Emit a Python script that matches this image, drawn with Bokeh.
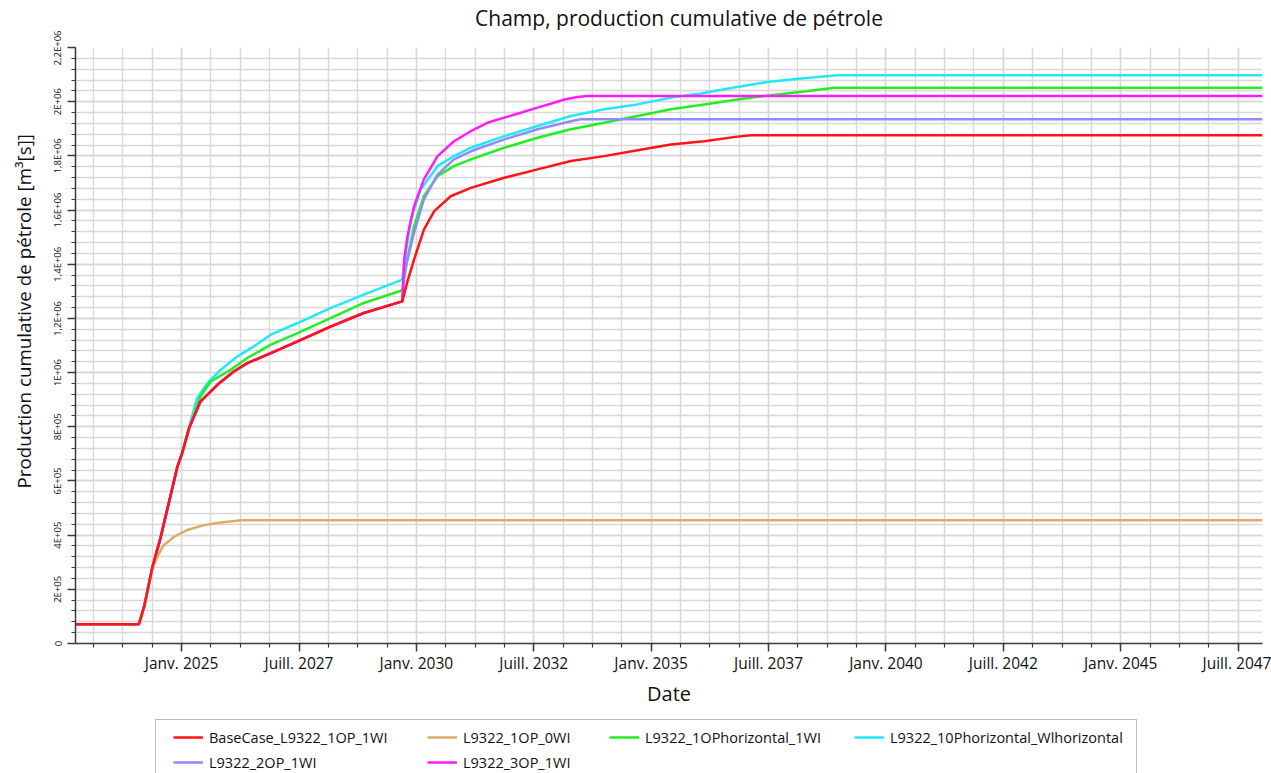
import numpy as np
from bokeh.plotting import figure
from bokeh.layouts import column
from bokeh.models import Range1d, FixedTicker, Legend, LegendItem, Title, Label
from bokeh.embed import file_html
from bokeh.resources import INLINE

# ---------------- data (x in decimal years) ----------------
X_START = 2022.74
X_END = 2048.02

base_x = [2022.74, 2024.09, 2024.20, 2024.38, 2024.55, 2024.77, 2024.91, 2025.01, 2025.16,
          2025.40, 2025.76, 2026.11, 2026.40, 2026.90, 2027.47, 2028.17, 2028.88, 2029.70,
          2029.81, 2029.95, 2030.16, 2030.38, 2030.73, 2031.16, 2031.87, 2032.58, 2033.29,
          2034.00, 2034.71, 2035.42, 2036.13, 2036.84, 2037.12, 2048.02]
base_y = [71000, 71000, 135000, 283000, 390000, 550000, 653000, 702000, 795000,
          893000, 955000, 1004000, 1035000, 1072000, 1115000, 1170000, 1220000, 1263000,
          1337000, 1417000, 1528000, 1596000, 1651000, 1682000, 1719000, 1750000, 1781000,
          1799000, 1821000, 1842000, 1854000, 1871000, 1876000, 1876000]

op0_x = [2022.74, 2024.09, 2024.20, 2024.38, 2024.48, 2024.62, 2024.84, 2025.12, 2025.48,
         2025.83, 2026.26, 2048.02]
op0_y = [71000, 71000, 135000, 277000, 320000, 363000, 394000, 419000, 437000,
         447000, 455000, 455000]

hor_x = [2022.74, 2024.09, 2024.20, 2024.38, 2024.55, 2024.77, 2024.91, 2025.01, 2025.16,
         2025.40, 2025.62, 2026.04, 2026.40, 2026.90, 2027.47, 2028.17, 2028.88, 2029.70,
         2029.81, 2029.95, 2030.16, 2030.45, 2030.80, 2031.16, 2031.87, 2032.58, 2033.29,
         2034.00, 2034.71, 2035.42, 2036.13, 2036.84, 2037.55, 2038.26, 2038.90, 2048.02]
hor_y = [71000, 71000, 135000, 283000, 390000, 550000, 653000, 702000, 795000,
         912000, 967000, 1010000, 1054000, 1103000, 1146000, 1201000, 1257000, 1304000,
         1420000, 1540000, 1651000, 1725000, 1762000, 1787000, 1830000, 1867000, 1898000,
         1922000, 1947000, 1972000, 1990000, 2008000, 2024000, 2038000, 2051000, 2051000]

hwi_x = [2022.74, 2024.09, 2024.20, 2024.38, 2024.55, 2024.77, 2024.91, 2025.01, 2025.16,
         2025.33, 2025.55, 2025.83, 2026.19, 2026.54, 2026.90, 2027.47, 2028.17, 2028.88,
         2029.70, 2029.78, 2029.88, 2030.09, 2030.45, 2030.80, 2031.16, 2031.87, 2032.58,
         2033.29, 2034.00, 2034.71, 2035.42, 2036.06, 2036.77, 2037.48, 2038.19, 2038.97,
         2048.02]
hwi_y = [71000, 71000, 135000, 283000, 390000, 550000, 653000, 705000, 800000,
         906000, 961000, 1010000, 1060000, 1097000, 1140000, 1183000, 1238000, 1288000,
         1343000, 1450000, 1565000, 1676000, 1762000, 1799000, 1830000, 1873000, 1910000,
         1947000, 1972000, 1990000, 2015000, 2030000, 2052000, 2073000, 2086000, 2098000,
         2098000]

op2_x = [2022.74, 2024.09, 2024.20, 2024.38, 2024.55, 2024.77, 2024.91, 2025.01, 2025.16,
         2025.40, 2025.76, 2026.11, 2026.40, 2026.90, 2027.47, 2028.17, 2028.88, 2029.70,
         2029.74, 2029.95, 2030.16, 2030.45, 2030.80, 2031.16, 2031.87, 2032.58, 2033.29,
         2033.50, 2048.02]
op2_y = [71000, 71000, 135000, 283000, 390000, 550000, 653000, 702000, 795000,
         893000, 955000, 1004000, 1035000, 1072000, 1115000, 1170000, 1220000, 1263000,
         1368000, 1516000, 1639000, 1731000, 1787000, 1817000, 1861000, 1898000, 1928000,
         1935000, 1935000]

op3_x = [2022.74, 2024.09, 2024.20, 2024.38, 2024.55, 2024.77, 2024.91, 2025.01, 2025.16,
         2025.40, 2025.76, 2026.11, 2026.40, 2026.90, 2027.47, 2028.17, 2028.88, 2029.70,
         2029.74, 2029.81, 2029.95, 2030.16, 2030.45, 2030.80, 2031.16, 2031.51, 2031.87,
         2032.22, 2032.58, 2032.93, 2033.15, 2033.43, 2033.64, 2048.02]
op3_y = [71000, 71000, 135000, 283000, 390000, 550000, 653000, 702000, 795000,
         893000, 955000, 1004000, 1035000, 1072000, 1115000, 1170000, 1220000, 1263000,
         1417000, 1503000, 1614000, 1713000, 1799000, 1854000, 1891000, 1922000, 1941000,
         1959000, 1978000, 1996000, 2008000, 2017000, 2021000, 2021000]

series_names = ["BaseCase_L9322_1OP_1WI", "L9322_1OP_0WI", "L9322_1OPhorizontal_1WI",
                "L9322_10Phorizontal_Wlhorizontal", "L9322_2OP_1WI", "L9322_3OP_1WI"]
series_colors = ["#ff1414", "#dcab66", "#22ee22", "#22e8f5", "#8c8cff", "#ff1aff"]
series_x = [base_x, op0_x, hor_x, hwi_x, op2_x, op3_x]
series_y = [base_y, op0_y, hor_y, hwi_y, op2_y, op3_y]

x_major = [2025.0, 2027.5, 2030.0, 2032.5, 2035.0, 2037.5, 2040.0, 2042.5, 2045.0, 2047.5]
x_major_labels = ["Janv. 2025", "Juill. 2027", "Janv. 2030", "Juill. 2032", "Janv. 2035",
                  "Juill. 2037", "Janv. 2040", "Juill. 2042", "Janv. 2045", "Juill. 2047"]
x_minor_step = 0.625

y_major = [0, 200000, 400000, 600000, 800000, 1000000, 1200000, 1400000, 1600000,
           1800000, 2000000, 2200000]
y_major_labels = ["0", "2E+05", "4E+05", "6E+05", "8E+05", "1E+06", "1,2E+06", "1,4E+06",
                  "1,6E+06", "1,8E+06", "2E+06", "2,2E+06"]
y_minor_step = 40000

TITLE = "Champ, production cumulative de pétrole"
Y_LABEL = "Production cumulative de pétrole [m³[s]]"
X_LABEL = "Date"

# legend layout: row 1 = first four series, row 2 = last two
legend_columns = [[0, 4], [1, 5], [2], [3]]

FONT = "Open Sans"
TXT = "#111111"

W = 1271
FL, FW = 75, 1187          # frame left / width (all strips share this frame column)
TH = 30                    # title strip height
H = 682                    # main chart height
LH = 773 - TH - H          # legend strip height
FT, FH = 17, 596           # main frame top (inside main chart) / height


def strip(height, xr, yr):
    f = figure(width=W, height=height, output_backend="svg", toolbar_location=None,
               x_range=xr, y_range=yr, x_axis_type=None, y_axis_type=None,
               min_border_left=0, min_border_right=0, min_border_top=0, min_border_bottom=0)
    f.outline_line_color = None
    f.grid.visible = False
    f.border_fill_color = "white"
    f.background_fill_color = "white"
    return f


# ---------------- title strip ----------------
ts = strip(TH, Range1d(0, FW), Range1d(0, TH))
ts.add_layout(Label(x=678.5 - FL, y=TH - 17, text=TITLE, text_align="center",
                    text_baseline="middle", text_font=FONT, text_font_size="21px",
                    text_color=TXT))

# ---------------- main figure ----------------
p = figure(width=W, height=H, output_backend="svg", toolbar_location=None,
           x_range=Range1d(X_START, X_END), y_range=Range1d(0, 2200000),
           min_border_left=FL, min_border_right=W - FL - FW, min_border_top=FT,
           min_border_bottom=H - FT - FH)
p.title.text = ""
p.outline_line_color = None
p.background_fill_color = "white"
p.border_fill_color = "white"

x_minor = list(np.arange(2022.5, X_END + 0.001, x_minor_step))
y_minor = list(np.arange(0, 2200001, y_minor_step))
p.xaxis.ticker = FixedTicker(ticks=x_major, minor_ticks=x_minor)
p.yaxis.ticker = FixedTicker(ticks=y_major, minor_ticks=y_minor)
p.xaxis.major_label_overrides = {t: s for t, s in zip(x_major, x_major_labels)}
p.yaxis.major_label_overrides = {t: s for t, s in zip(y_major, y_major_labels)}

for ax in (p.xaxis[0], p.yaxis[0]):
    ax.axis_line_color = "#3a3a3a"
    ax.axis_line_width = 1.5
    ax.major_tick_line_color = "#3a3a3a"
    ax.minor_tick_line_color = "#3a3a3a"
    ax.major_tick_line_width = 1.5
    ax.minor_tick_line_width = 1.2
    ax.major_tick_in = 0
    ax.major_tick_out = 8
    ax.minor_tick_in = 0
    ax.minor_tick_out = 4
    ax.major_label_text_font = FONT
    ax.major_label_text_color = TXT
    ax.axis_label_text_font = FONT
    ax.axis_label_text_font_style = "normal"
    ax.axis_label_text_font_size = "20px"
    ax.axis_label_text_color = TXT

p.xaxis.axis_label = X_LABEL
p.xaxis.major_label_text_font_size = "15.5px"
p.xaxis.major_label_standoff = 0
p.xaxis.axis_label_standoff = 3

p.yaxis.axis_label = None
p.yaxis.major_label_text_font_size = "9.5px"
p.yaxis.major_label_orientation = "vertical"
p.yaxis.major_label_standoff = 3

ylab = Title(text=Y_LABEL, align="left", offset=155, vertical_align="top", standoff=20,
             text_font=FONT, text_font_size="18.8px", text_font_style="normal",
             text_color=TXT)
p.add_layout(ylab, "left")

for g in (p.xgrid[0], p.ygrid[0]):
    g.grid_line_color = "#d8d8d8"
    g.grid_line_width = 1.4
    g.minor_grid_line_color = "#d8d8d8"
    g.minor_grid_line_width = 1.4

# draw order: red on top
for idx in [3, 2, 4, 5, 1, 0]:
    p.line(series_x[idx], series_y[idx], line_color=series_colors[idx], line_width=2.5)

# ---------------- legend strip below the chart ----------------
X0 = FL + 2
lf = strip(LH, Range1d(0, 1), Range1d(0, 1))

# off-range proxy renderers, only used to draw the legend swatches
proxies = [lf.line([-2, -1], [-2, -2], line_color=c, line_width=2.5) for c in series_colors]
dummy = lf.line([-2, -1], [-2, -2], line_alpha=0)

BOX_L, BOX_T, BOX_W, BOX_H = 157, 9, 980, 56
box = Legend(items=[LegendItem(label="", renderers=[dummy])],
             location=(BOX_L - X0, LH - (BOX_T + BOX_H)),
             padding=0, margin=0, glyph_width=1, glyph_height=BOX_H, label_height=BOX_H,
             label_width=BOX_W - 1, label_standoff=0, spacing=0,
             border_line_color="#7a7a7a", border_line_width=1.5,
             background_fill_color="white", background_fill_alpha=1.0)
lf.add_layout(box)

col_x = [175, 429, 611, 856]
ROW_T = 15
for cx, members in zip(col_x, legend_columns):
    n = len(members)
    leg_h = n * 20 + (n - 1) * 5
    lg = Legend(items=[LegendItem(label=series_names[i], renderers=[proxies[i]]) for i in members],
                orientation="vertical", location=(cx - X0, LH - (ROW_T + leg_h)),
                padding=0, margin=0, glyph_width=30, glyph_height=20, label_height=20,
                spacing=5, label_standoff=6,
                label_text_font=FONT, label_text_font_size="14.5px", label_text_color=TXT,
                border_line_color=None, background_fill_alpha=0)
    lf.add_layout(lg)

layout = column(ts, p, lf, spacing=0)
open("out.html", "w").write(file_html(layout, INLINE))
